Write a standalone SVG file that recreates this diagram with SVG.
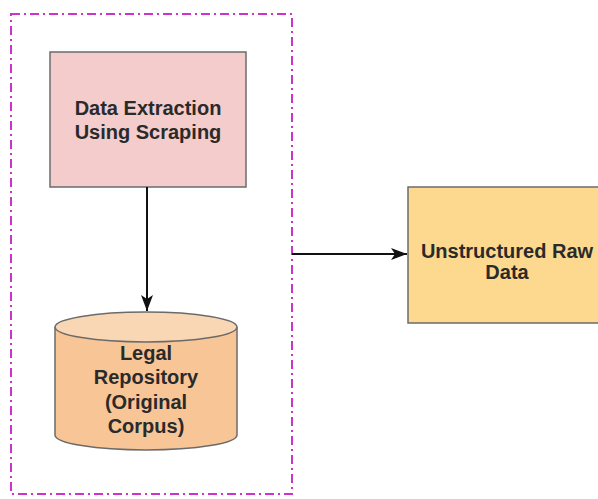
<svg xmlns="http://www.w3.org/2000/svg" width="598" height="499" viewBox="0 0 598 499">
<defs>
<style>
.lbl{font-family:"Liberation Sans",Arial,sans-serif;font-weight:bold;font-size:20px;fill:#2a2a2a;text-anchor:middle}
.box{stroke:#6b6b6b;stroke-width:1.5}
.edge{stroke:#111;stroke-width:2;fill:none}
</style>
<marker id="arr" viewBox="0 0 16 12" refX="16" refY="6" markerWidth="16" markerHeight="12" orient="auto" markerUnits="userSpaceOnUse">
<path d="M0,0 L16,6 L0,12 L4,6 Z" fill="#111"/>
</marker>
</defs>
<rect width="598" height="499" fill="#ffffff"/>
<g id="group-boundary">
<rect x="11" y="14" width="281" height="480" fill="none" stroke="#cc33cc" stroke-width="2" stroke-dasharray="9,4,2,4"/>
</g>
<g id="node-extraction">
<rect class="box" x="50" y="52" width="196" height="135" fill="#f4cccc"/>
<text class="lbl" x="148" y="115">Data Extraction</text>
<text class="lbl" x="148" y="139">Using Scraping</text>
</g>
<g id="node-repository">
<path class="box" d="M55,327 L55,435 A91,15 0 0 0 237,435 L237,327" fill="#f8c596"/>
<ellipse class="box" cx="146" cy="327" rx="91" ry="15" fill="#fad7b4"/>
<text class="lbl" x="146" y="360">Legal</text>
<text class="lbl" x="146" y="384">Repository</text>
<text class="lbl" x="146" y="409">(Original</text>
<text class="lbl" x="146" y="433">Corpus)</text>
</g>
<g id="node-raw">
<rect class="box" x="408" y="187" width="200" height="136" fill="#fcd98e"/>
<text class="lbl" x="507" y="258">Unstructured Raw</text>
<text class="lbl" x="507" y="279">Data</text>
</g>
<g id="connectors">
<line class="edge" x1="147" y1="187" x2="147" y2="311" marker-end="url(#arr)"/>
<line class="edge" x1="292" y1="254" x2="407" y2="254" marker-end="url(#arr)"/>
</g>
</svg>
